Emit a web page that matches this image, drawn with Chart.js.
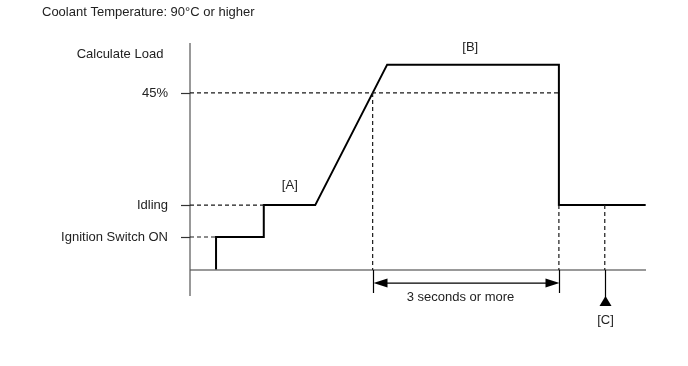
<!DOCTYPE html>
<html>
<head>
<meta charset="utf-8">
<script src="https://cdn.jsdelivr.net/npm/chart.js@4"></script>
<style>
  html, body { margin: 0; padding: 0; background: #fff; }
  #wrap { width: 688px; height: 366px; position: relative; }
</style>
</head>
<body>
<div id="wrap"><canvas id="loadChart" width="688" height="366"></canvas></div>
<script>
// time in seconds, load in %
const loadTime = [0.42, 0.42, 1.19, 1.19, 2.02, 3.18, 5.95, 5.95, 7.35];
const loadLevel = [0, 8.4, 8.4, 16.5, 16.5, 52.2, 52.2, 16.5, 16.5];

const levelNames = ["Ignition Switch ON", "Idling", "45%"];
const levelValues = [8.4, 16.5, 45];
const levelEnds = [0.42, 1.19, 5.95];

const crossTime = 2.946;   // load reaches 45%
const dropTime = 5.95;     // load drops back to idling
const checkTime = 6.69;    // [C]

const xMax = 7.355;
const yMin = -6.6;
const yMax = 57.7;

const pts = (xs, ys) => xs.map((x, i) => ({ x: x, y: ys[i] }));
const dashStyle = { borderColor: "#1a1a1a", borderWidth: 1.2, borderDash: [4, 3], pointRadius: 0, fill: false };

const guides = levelValues.map((v, i) => Object.assign({
    data: [{ x: 0, y: v }, { x: levelEnds[i], y: v }]
}, dashStyle));
guides.push(Object.assign({ data: [{ x: crossTime, y: 45 }, { x: crossTime, y: 0 }] }, dashStyle));
guides.push(Object.assign({ data: [{ x: dropTime, y: 16.5 }, { x: dropTime, y: 0 }] }, dashStyle));
guides.push(Object.assign({ data: [{ x: checkTime, y: 16.5 }, { x: checkTime, y: 0 }] }, dashStyle));

const FONT = "13px 'Liberation Sans', Arial, sans-serif";

const annotate = {
    id: "annotate",
    afterDatasetsDraw(chart) {
        const c = chart.ctx;
        const xs = chart.scales.x, ys = chart.scales.y;
        const ax = xs.getPixelForValue(0);
        const base = ys.getPixelForValue(0);
        c.save();
        c.font = FONT;
        c.fillStyle = "#222";
        c.textBaseline = "middle";

        // level labels + ticks
        c.textAlign = "right";
        c.strokeStyle = "#333";
        c.lineWidth = 1.2;
        levelValues.forEach((v, i) => {
            const py = Math.round(ys.getPixelForValue(v)) + 0.5;
            c.fillText(levelNames[i], ax - 22, py);
            c.beginPath();
            c.moveTo(ax - 9, py);
            c.lineTo(ax, py);
            c.stroke();
        });
        c.textAlign = "center";
        c.fillText("Calculate Load", ax - 70, ys.getPixelForValue(54.9));

        c.fillText("[A]", xs.getPixelForValue(1.61), ys.getPixelForValue(21.4));
        c.fillText("[B]", xs.getPixelForValue(4.52), ys.getPixelForValue(56.7));

        // 3 seconds span
        const x1 = Math.round(xs.getPixelForValue(crossTime)) + 0.5;
        const x2 = Math.round(xs.getPixelForValue(dropTime)) + 0.5;
        const ay = base + 13;
        c.strokeStyle = "#000";
        c.fillStyle = "#000";
        c.beginPath();
        c.moveTo(x1, base); c.lineTo(x1, base + 23);
        c.moveTo(x2, base); c.lineTo(x2, base + 23);
        c.moveTo(x1 + 10, ay); c.lineTo(x2 - 10, ay);
        c.stroke();
        c.beginPath();
        c.moveTo(x1, ay); c.lineTo(x1 + 14, ay - 4.5); c.lineTo(x1 + 14, ay + 4.5); c.closePath();
        c.moveTo(x2, ay); c.lineTo(x2 - 14, ay - 4.5); c.lineTo(x2 - 14, ay + 4.5); c.closePath();
        c.fill();
        c.fillStyle = "#222";
        c.fillText("3 seconds or more", (x1 + x2) / 2 - 6, base + 27);

        // [C] marker
        const xc = Math.round(xs.getPixelForValue(checkTime)) + 0.5;
        c.strokeStyle = "#000";
        c.beginPath();
        c.moveTo(xc, base); c.lineTo(xc, base + 28);
        c.stroke();
        c.fillStyle = "#000";
        c.beginPath();
        c.moveTo(xc, base + 26); c.lineTo(xc - 6, base + 36); c.lineTo(xc + 6, base + 36); c.closePath();
        c.fill();
        c.fillStyle = "#222";
        c.fillText("[C]", xc, base + 50);

        // heading
        c.textAlign = "left";
        c.fillText("Coolant Temperature: 90\u00B0C or higher", 42, 12);
        c.restore();
    }
};

new Chart(document.getElementById("loadChart"), {
    type: "line",
    data: {
        datasets: guides.concat([
            { data: [{ x: 0, y: yMin }, { x: 0, y: yMax }], borderColor: "#555", borderWidth: 1.2, pointRadius: 0 },
            { data: [{ x: 0, y: 0 }, { x: xMax, y: 0 }], borderColor: "#777", borderWidth: 1.5, pointRadius: 0 },
            { data: pts(loadTime, loadLevel), borderColor: "#000", borderWidth: 2, pointRadius: 0, tension: 0 }
        ])
    },
    options: {
        responsive: false,
        animation: false,
        events: [],
        layout: { padding: { left: 190, right: 42, top: 43, bottom: 70 } },
        scales: {
            x: { type: "linear", min: 0, max: xMax, display: false },
            y: { type: "linear", min: yMin, max: yMax, display: false }
        },
        datasets: { line: { clip: false } },
        plugins: { legend: { display: false }, tooltip: { enabled: false } }
    },
    plugins: [annotate]
});
</script>
</body>
</html>
